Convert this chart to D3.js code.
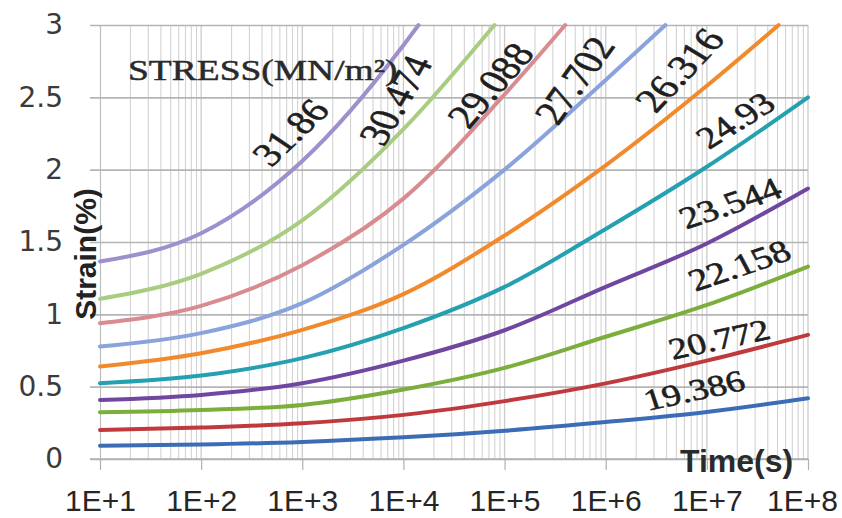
<!DOCTYPE html>
<html>
<head>
<meta charset="utf-8">
<script src="https://cdn.jsdelivr.net/npm/d3@7"></script>
<style>
  html, body { margin: 0; padding: 0; background: #fff; }
  svg { display: block; }
</style>
</head>
<body>
<svg id="chart" width="842" height="518"></svg>
<script>
// Creep strain against time (log scale) for ten stress levels, MN/m².
const timeDecades = [1e1, 1e2, 1e3, 1e4, 1e5, 1e6, 1e7, 1e8];
const timeTickLabels = ["1E+1", "1E+2", "1E+3", "1E+4", "1E+5", "1E+6", "1E+7", "1E+8"];
const strainTicks = [0, 0.5, 1, 1.5, 2, 2.5, 3];

const stressLevels = ["19.386", "20.772", "22.158", "23.544", "24.93",
                      "26.316", "27.702", "29.088", "30.474", "31.86"];

// strain (%) read at each decade of time
const strain19386 = [0.092, 0.100, 0.118, 0.150, 0.195, 0.255, 0.325, 0.420];
const strain20772 = [0.200, 0.217, 0.247, 0.305, 0.400, 0.523, 0.680, 0.858];
const strain22158 = [0.323, 0.339, 0.374, 0.480, 0.630, 0.845, 1.065, 1.330];
const strain23544 = [0.408, 0.443, 0.524, 0.680, 0.890, 1.190, 1.490, 1.870];
const strain24930 = [0.524, 0.577, 0.697, 0.905, 1.190, 1.590, 2.020, 2.500];
const strain26316 = [0.639, 0.731, 0.893, 1.140, 1.545, 2.030, 2.580];
const strain27702 = [0.777, 0.870, 1.077, 1.480, 2.000, 2.620];
const strain29088 = [0.939, 1.059, 1.340, 1.800, 2.520];
const strain30474 = [1.107, 1.280, 1.650, 2.280];
const strain31860 = [1.365, 1.560, 2.060, 2.860];

// time (s) at which a curve reaches the 3 % ceiling of the axis
const ceilingTime = [null, null, null, null, null, 5.13e7, 3.89e6, 3.98e5, 7.94e4, 1.41e4];

const strainSeries = [strain19386, strain20772, strain22158, strain23544, strain24930,
                      strain26316, strain27702, strain29088, strain30474, strain31860];

const seriesColors = ["#3a6db5", "#c0393d", "#7bae3a", "#6f47a0", "#25a0b1",
                      "#f28a2c", "#8aa3dc", "#d98c8f", "#a9cd80", "#9e90cc"];

// label anchor: [time, strain, angle (deg), font size]
const labelSpots = [
  [Math.pow(10, 6.873), 0.477, 15, 30],
  [Math.pow(10, 7.12), 0.83, 15, 30],
  [Math.pow(10, 7.32), 1.34, 23, 31],
  [Math.pow(10, 7.229), 1.77, 23, 31],
  [Math.pow(10, 7.278), 2.343, 38, 31],
  [Math.pow(10, 6.725), 2.69, 53, 34],
  [Math.pow(10, 5.687), 2.62, 60, 34],
  [Math.pow(10, 4.856), 2.585, 55, 34],
  [Math.pow(10, 3.917), 2.48, 65, 34],
  [Math.pow(10, 2.879), 2.26, 50, 33]
];

const W = 842, H = 518;
const plot = { left: 100, right: 808, top: 25, bottom: 459 };
const svg = d3.select("#chart");

const x = d3.scaleLog().domain([1e1, 1e8]).range([plot.left, plot.right]);
const y = d3.scaleLinear().domain([0, 3]).range([plot.bottom, plot.top]);

// minor vertical grid: 2..9 within every decade
const minorTimes = [];
for (let k = 1; k < 8; k++) for (let m = 2; m <= 9; m++) minorTimes.push(m * Math.pow(10, k));

const grid = svg.append("g");
grid.selectAll("line.minor").data(minorTimes).join("line")
  .attr("x1", d => x(d)).attr("x2", d => x(d))
  .attr("y1", plot.top).attr("y2", plot.bottom)
  .attr("stroke", "#d3d3d3").attr("stroke-width", 1.1);
grid.selectAll("line.major").data(timeDecades.slice(1)).join("line")
  .attr("x1", d => x(d)).attr("x2", d => x(d))
  .attr("y1", plot.top).attr("y2", plot.bottom)
  .attr("stroke", "#cbcbcb").attr("stroke-width", 1.3);

// horizontal grid from the y axis (with its outward ticks)
const yAxis = d3.axisLeft(y).tickValues(strainTicks)
  .tickSize(-(plot.right - plot.left)).tickSizeOuter(0).tickFormat(d3.format("~g")).tickPadding(37);
const yg = svg.append("g").attr("transform", `translate(${plot.left},0)`).call(yAxis);
yg.select(".domain").attr("stroke", "#bdbdbd").attr("stroke-width", 1.2);
yg.selectAll(".tick line").attr("stroke", "#b5b5b5").attr("stroke-width", 1.7).attr("x1", -10);
yg.selectAll(".tick text")
  .attr("fill", "#3a3a3a")
  .style("font-family", "'DejaVu Sans', sans-serif").style("font-size", "28px");

// x axis with decade tick marks
const xAxis = d3.axisBottom(x).tickValues(timeDecades)
  .tickFormat((d, i) => timeTickLabels[i]).tickSize(11).tickSizeOuter(0).tickPadding(20);
const xg = svg.append("g").attr("transform", `translate(0,${plot.bottom})`).call(xAxis);
xg.select(".domain").attr("stroke", "#b0b0b0").attr("stroke-width", 1.7)
  .attr("d", `M${plot.left - 10},0H${plot.right}`);
xg.selectAll(".tick line").attr("stroke", "#b0b0b0").attr("stroke-width", 1.2);
xg.selectAll(".tick text")
  .attr("fill", "#262626")
  .style("font-family", "'Liberation Sans', Arial, sans-serif").style("font-size", "30px")
  .each(function () {
    const t = d3.select(this);
    const half = this.getComputedTextLength() / 2;
    const tx = +d3.select(this.parentNode).attr("transform").match(/translate\(([-\d.]+)/)[1];
    if (tx + half > W - 4) t.attr("x", W - 4 - half - tx);
  });

// creep curves
const line = d3.line().x(d => x(d[0])).y(d => y(d[1])).curve(d3.curveMonotoneX);
const curves = strainSeries.map((vals, i) => {
  const pts = vals.map((v, j) => [timeDecades[j], v]);
  if (ceilingTime[i] !== null) pts.push([ceilingTime[i], 3]);
  return pts;
});
svg.append("g").selectAll("path").data(curves).join("path")
  .attr("d", line)
  .attr("fill", "none")
  .attr("stroke", (d, i) => seriesColors[i])
  .attr("stroke-width", 4)
  .attr("stroke-linecap", "round");

// stress labels along the curves
svg.append("g").selectAll("text").data(stressLevels).join("text")
  .attr("transform", (d, i) => {
    const [t, s, a] = labelSpots[i];
    return `translate(${x(t)},${y(s)}) scale(1.25,1) rotate(${-a})`;
  })
  .attr("text-anchor", "middle").attr("dy", "0.35em")
  .attr("fill", "#1e1e1e").attr("stroke", "#1e1e1e").attr("stroke-width", 0.6)
  .style("font-family", "'Liberation Serif', 'Times New Roman', serif")
  .style("font-size", (d, i) => labelSpots[i][3] + "px")
  .text(d => d);

svg.append("text")
  .attr("transform", "translate(128,80) scale(1.25,1)")
  .attr("fill", "#2a2a2a").attr("stroke", "#2a2a2a").attr("stroke-width", 0.5)
  .style("font-family", "'Liberation Serif', 'Times New Roman', serif")
  .style("font-size", "30px")
  .text("STRESS(MN/m²)");

// axis titles
svg.append("text")
  .attr("transform", "translate(96,254) rotate(-90)")
  .attr("text-anchor", "middle")
  .attr("fill", "#222")
  .style("font-family", "'Liberation Sans', Arial, sans-serif")
  .style("font-size", "30px").style("font-weight", "bold")
  .text("Strain(%)");

svg.append("text")
  .attr("x", 680).attr("y", 472)
  .attr("fill", "#2a2a2a")
  .style("font-family", "'Liberation Sans', Arial, sans-serif")
  .style("font-size", "32px").style("font-weight", "bold")
  .text("Time(s)");
</script>
</body>
</html>
